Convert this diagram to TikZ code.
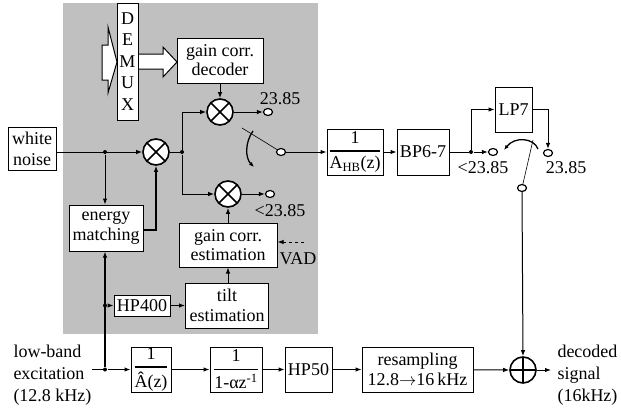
\documentclass[tikz,border=0pt]{standalone}
\usepackage{fontspec}
\setmainfont{Liberation Serif}
\usepackage{amsmath}
\usetikzlibrary{arrows.meta,shapes.geometric,calc}
\definecolor{bg}{RGB}{192,192,192}
\newcommand{\myfr}[2]{$\genfrac{}{}{1.4pt}{0}{\text{#1}}{\text{#2}}$}
\begin{document}
\begin{tikzpicture}[x=1pt,y=-1pt,
  font=\fontsize{18}{19}\selectfont,
  line width=1pt,
  >={Latex[length=6pt,width=4.5pt]},
  blk/.style={draw, fill=white, inner sep=0pt, align=center},
  mult/.style={circle, draw, line width=1.6pt, fill=white, minimum size=26pt, inner sep=0pt,
    path picture={\draw[line width=1.6pt] (path picture bounding box.north west)--(path picture bounding box.south east)
      (path picture bounding box.north east)--(path picture bounding box.south west);}},
  adderstyle/.style={circle, draw, line width=1.6pt, fill=white, minimum size=26pt, inner sep=0pt,
    path picture={\draw[line width=1.6pt] (path picture bounding box.north)--(path picture bounding box.south)
      (path picture bounding box.east)--(path picture bounding box.west);}},
  term/.style={ellipse, draw, line width=1.2pt, fill=white, minimum width=9pt, minimum height=7pt, inner sep=0pt},
  jdot/.style={circle, fill, inner sep=0pt, minimum size=4pt},
  lbl/.style={inner sep=0pt},
  thk/.style={line width=1.8pt},
  sw/.style={line width=1.3pt, -{Latex[length=5pt,width=4pt]}}
]
\useasboundingbox (0,0) rectangle (621,413);
\fill[bg] (63,3) rectangle (318,334);

% big arrows
\draw[fill=white] (102,45) -- (108,45) -- (108,27) -- (117,62) -- (108,93) -- (108,80) -- (102,80) -- cycle;
\draw[fill=white] (138,54) -- (163,54) -- (163,47) -- (177,62) -- (163,77) -- (163,69) -- (138,69) -- cycle;

\node[blk, minimum width=21pt, minimum height=117pt, font=\fontsize{18}{21.5}\selectfont] (demux) at (127.5,61.5) {D\\E\\M\\U\\X};
\node[blk, minimum width=86pt, minimum height=45pt] (dec) at (220,60.5) {gain corr.\\decoder};
\node[mult] (m1) at (220,112) {};
\node[term] (t1) at (268,112) {};
\node[lbl] (l1) at (280,99) {23.85};

\node[blk, minimum width=48pt, minimum height=43pt, font=\fontsize{18}{21}\selectfont] (wn) at (32,149) {white\\noise};
\node[jdot] (dot1) at (105,152) {};
\node[mult] (m2) at (156,152) {};
\node[jdot] (dot2) at (182,152) {};
\node[mult] (m3) at (228,194) {};
\node[term] (t3) at (270,194) {};
\node[lbl] (l3) at (280,211) {<23.85};

\node[term] (t2) at (281,152) {};
\coordinate (b1) at (242,128);

\node[blk, minimum width=56pt, minimum height=46pt] (ahb) at (355,152) {\myfr{1}{A\textsubscript{HB}(z)}};
\node[blk, minimum width=52pt, minimum height=46pt] (bp) at (423,152) {BP6-7};
\node[jdot] (dot3) at (471,152) {};
\node[term] (t4) at (493,152) {};
\node[lbl] (l4) at (483,168) {<23.85};
\node[blk, minimum width=37pt, minimum height=45pt] (lp7) at (513.5,109.5) {LP7};
\node[term] (t5) at (548,153) {};
\node[lbl] (l5) at (566,168) {23.85};
\node[term] (t6) at (522,188) {};
\coordinate (b2) at (533,140);

\node[blk, minimum width=74pt, minimum height=46pt, font=\fontsize{18}{20}\selectfont] (em) at (106,228) {energy\\matching};
\node[blk, minimum width=98pt, minimum height=44pt] (gce) at (228,245) {gain corr.\\estimation};
\node[blk, minimum width=56pt, minimum height=21pt] (hp400) at (142,305.5) {HP400};
\node[blk, minimum width=83pt, minimum height=45pt, font=\fontsize{18}{20}\selectfont] (tilt) at (227,305.5) {tilt\\estimation};
\coordinate (vadin) at (304,242);
\node[lbl] (vad) at (298,259) {VAD};

\node[lbl, anchor=west, align=left, font=\fontsize{18}{22}\selectfont] (lb) at (13,375) {low-band\\excitation\\(12.8 kHz)};
\coordinate (lbin) at (92,369.5);
\node[jdot] (dot4) at (105,369.5) {};
\node[jdot] (dot5) at (105,305.5) {};
\node[blk, minimum width=40pt, minimum height=45pt] (ahat) at (151,369.5) {\myfr{1}{Â(z)}};
\node[blk, minimum width=52pt, minimum height=45pt] (alpha) at (236,369.5) {\myfr{1}{1-αz\textsuperscript{-1}}};
\node[blk, minimum width=47pt, minimum height=45pt] (hp50) at (308.5,369.5) {HP50};
\node[blk, minimum width=111pt, minimum height=45pt, font=\fontsize{18}{20.5}\selectfont] (res) at (417.5,369.5) {resampling\\12.8$\rightarrow$16\,kHz};
\node[adderstyle] (add) at (523,370) {};
\coordinate (out) at (551,370);
\node[lbl, anchor=west, align=left, font=\fontsize{18}{22}\selectfont] (dsig) at (557,375) {decoded\\signal\\(16kHz)};

% connectors
\draw[->] (dec.south) -- (m1.north);
\draw[->] (m1.east) -- (t1.west);
\draw[->] (wn.east |- dot1) -- (m2.west);
\draw[->] (dot1) -- (dot1 |- em.north);
\draw (m2.east) -- (dot2);
\draw[->] (dot2) |- (m1.west);
\draw[->] (dot2) |- (m3.west);
\draw[->] (m3.east) -- (t3.west);
\draw[->] (m3.south |- gce.north) -- (m3.south);
\draw[->] (tilt.north -| m3) -- (gce.south -| m3);
\draw[->] (dot5) -- (hp400.west);
\draw[->] (hp400.east) -- (tilt.west |- hp400.east);
\draw[dashed,->] (vadin) -- (vadin -| gce.east);
\draw[thk,->] ($(em.east)+(0,2)$) -| (m2.south);
\draw[thk,->] (dot4) -- (dot4 |- em.south);

\draw[line width=0.6pt] (t2) -- (b1);
\draw[sw] (253,131) .. controls (245,142) and (245,158) .. (254,167);
\draw[->] (t2.east) -- (ahb.west);
\draw[->] (ahb) -- (bp);
\draw (bp.east) -- (dot3);
\draw[->] (dot3) -- (t4.west);
\draw[->] (dot3) |- (lp7.west);
\draw[->] (lp7.east) -| (t5.north);
\draw[line width=0.6pt] (t6) -- (b2);
\draw[sw] (538,149) .. controls (534,138) and (515,136) .. (504,150);
\draw[->] (t6.south) -- (add.north);

\draw (lbin) -- (dot4);
\draw[->] (dot4) -- (ahat.west);
\draw[->] (ahat) -- (alpha);
\draw[->] (alpha) -- (hp50);
\draw[->] (hp50) -- (res);
\draw[->] (res) -- (add);
\draw[->] (add.east) -- (out);
\end{tikzpicture}
\end{document}
